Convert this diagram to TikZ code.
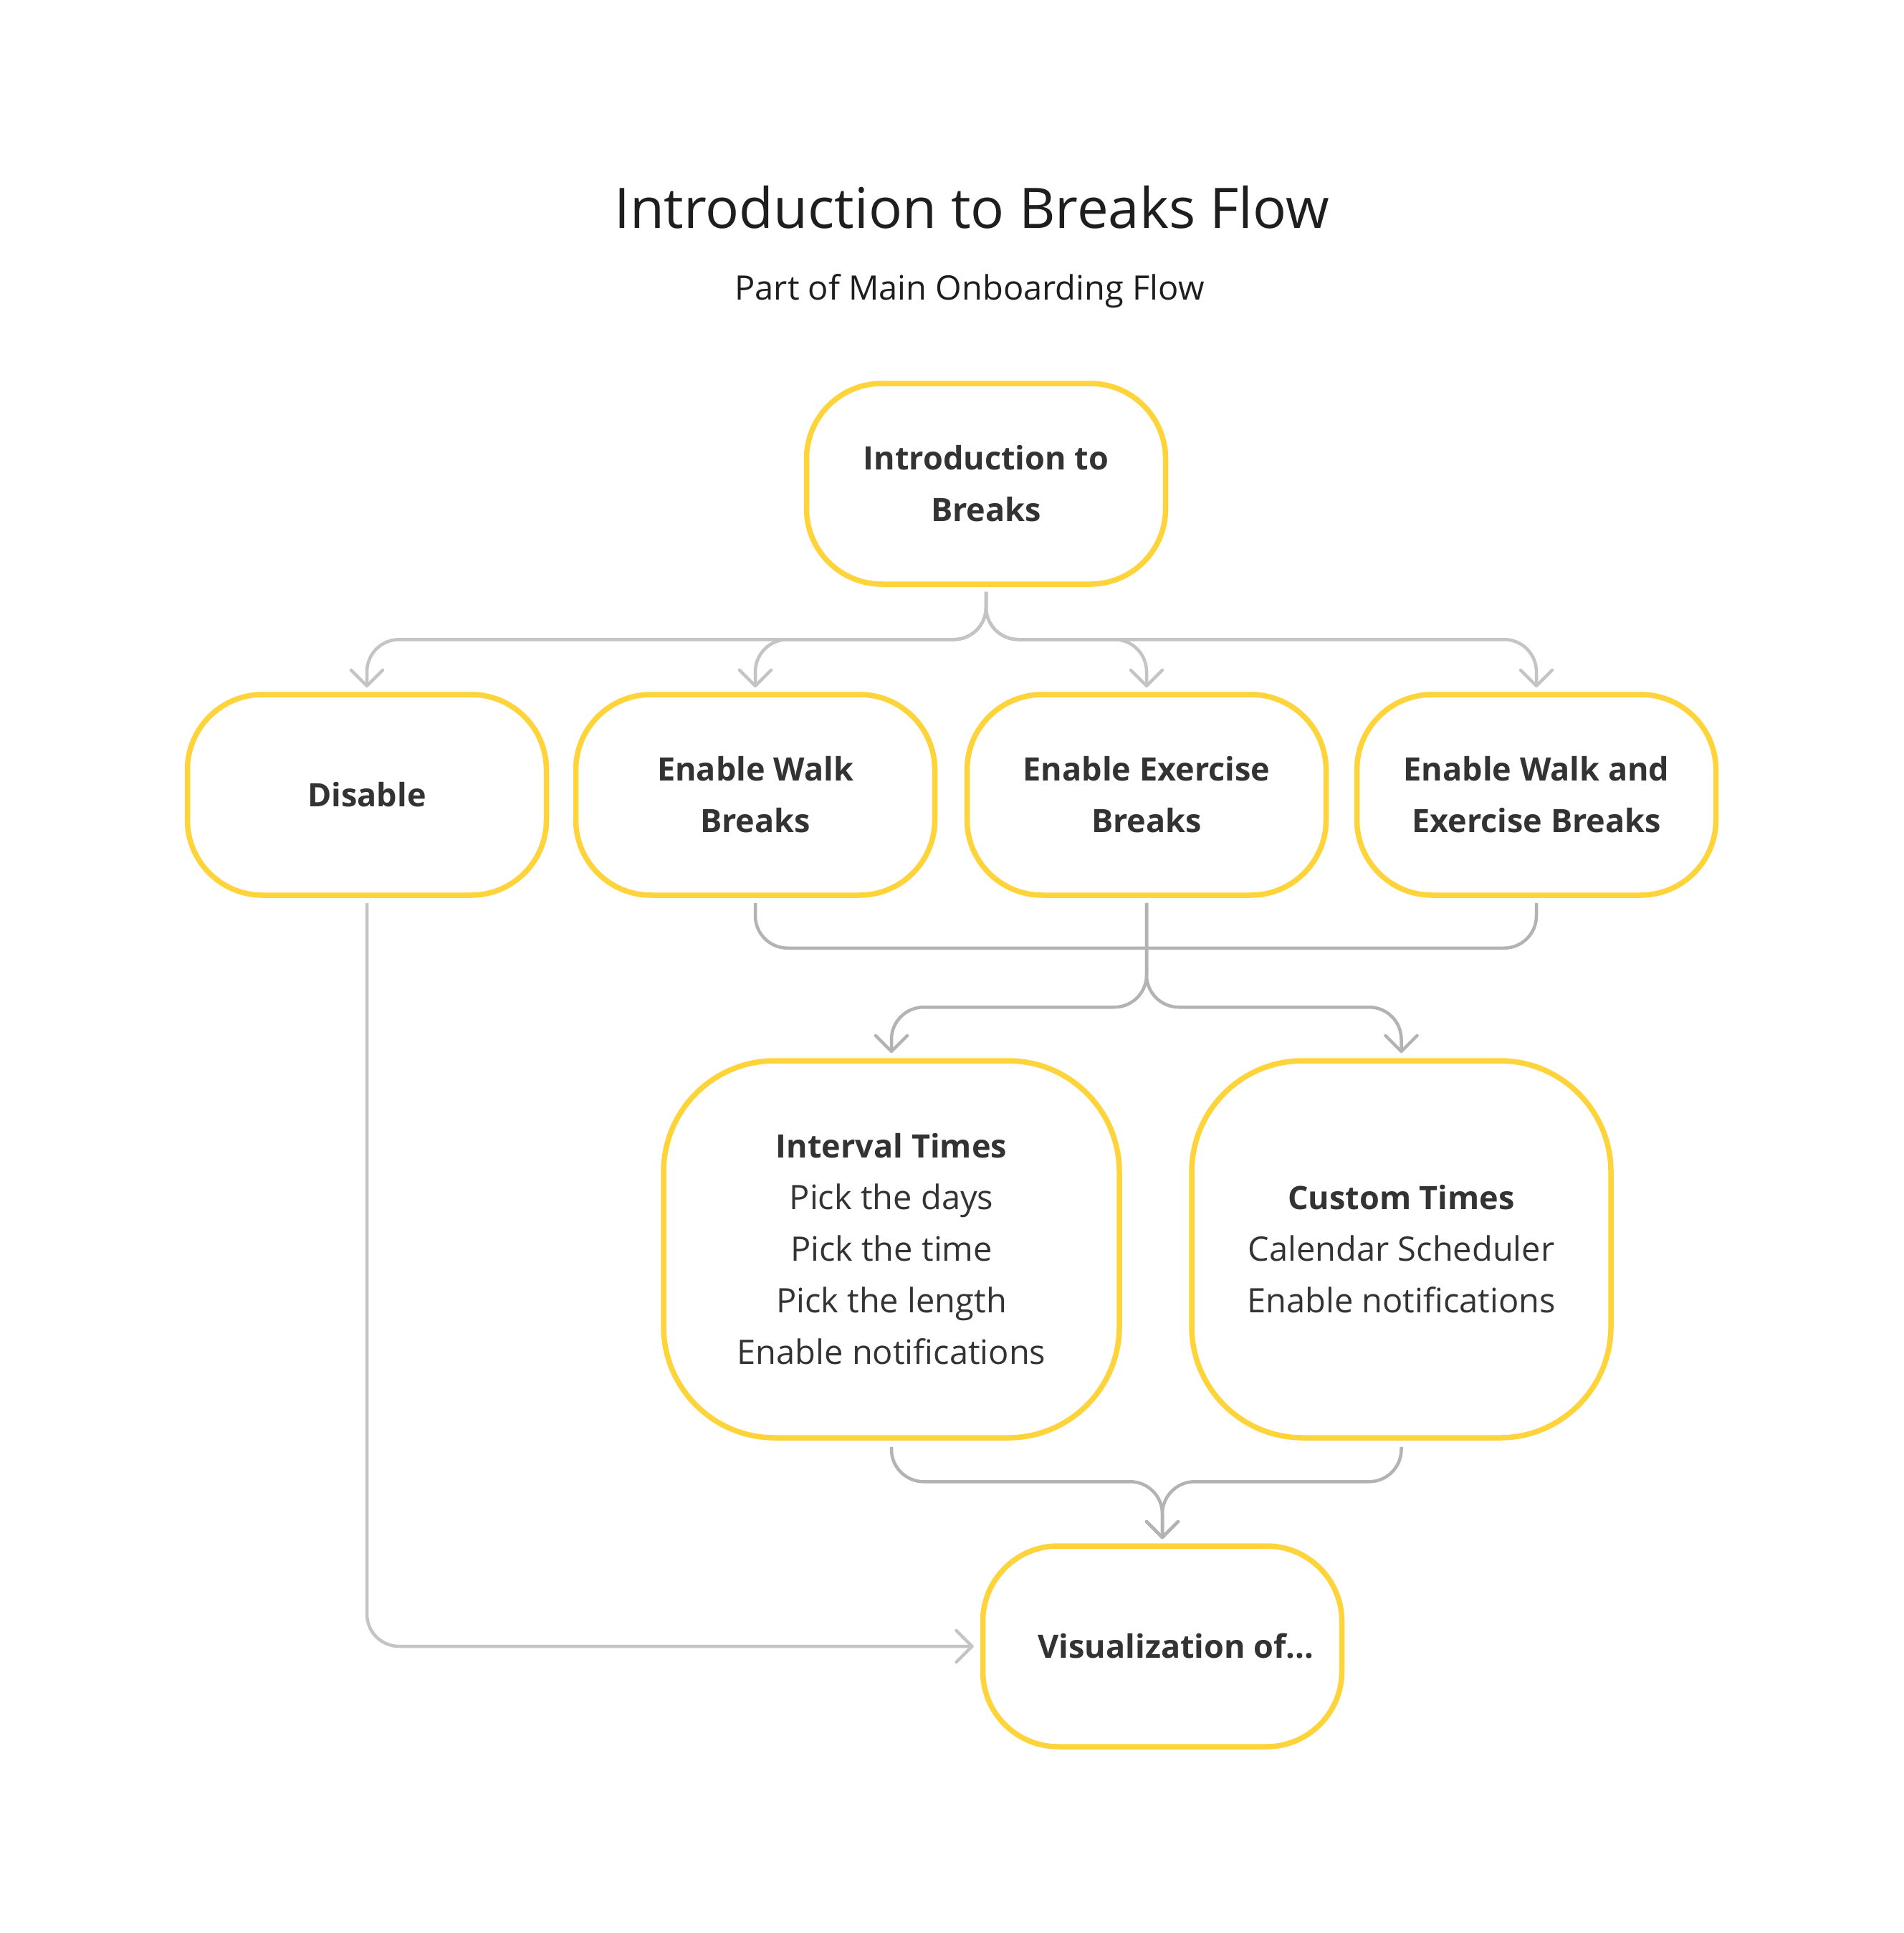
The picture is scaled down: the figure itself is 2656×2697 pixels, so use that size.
\documentclass[tikz,border=0pt]{standalone}
\usepackage{fontspec}
\setmainfont{Open Sans}
\usetikzlibrary{arrows.meta,calc}
\definecolor{boxyellow}{HTML}{FFD43B}
\definecolor{lineA}{HTML}{C4C4C4}
\definecolor{lineB}{HTML}{B3B3B3}
\definecolor{boxtext}{HTML}{333333}
\definecolor{titletext}{HTML}{1E1E1E}
\begin{document}
\begin{tikzpicture}[x=1pt,y=-1pt,
  box/.style={draw=boxyellow, line width=7.5pt, rounded corners=105pt, fill=white,
    minimum width=501pt, minimum height=280pt, align=center, text=boxtext,
    font=\fontsize{45}{72}\selectfont\bfseries, inner sep=0pt},
  tallbox/.style={box, rounded corners=155pt, minimum height=526pt,
    font=\fontsize{47}{72}\selectfont},
  headline/.style={font=\fontsize{45}{72}\selectfont\bfseries},
  connA/.style={draw=lineA, line width=4.5pt, rounded corners=45pt},
  connB/.style={draw=lineB, line width=4.5pt, rounded corners=45pt},
  tipped/.style={-{Straight Barb[length=22pt,width=44pt,round]}}
]
\useasboundingbox[fill=white] (0,0) rectangle (2656,2697);

\node[anchor=base, text=titletext, font=\fontsize{78}{90}\selectfont] (title) at (1356,318) {Introduction to Breaks Flow};
\node[anchor=base, text=titletext, font=\fontsize{47}{56}\selectfont] (subtitle) at (1353,418) {Part of Main Onboarding Flow};

\node[box] (intro) at (1376,675) {Introduction to\\Breaks};
\node[box] (disable) at (512,1109) {Disable};
\node[box] (walk) at (1054,1109) {Enable Walk\\Breaks};
\node[box] (exercise) at (1600,1109) {Enable Exercise\\Breaks};
\node[box] (both) at (2144,1109) {Enable Walk and\\Exercise Breaks};
\node[tallbox, minimum width=636pt] (interval) at (1244,1743)
  {{\fontsize{45}{72}\selectfont\bfseries Interval Times}\\Pick the days\\Pick the time\\Pick the length\\Enable notifications};
\node[tallbox, minimum width=585pt] (custom) at (1955.5,1743)
  {{\fontsize{45}{72}\selectfont\bfseries Custom Times}\\Calendar Scheduler\\Enable notifications};
\node[box] (vis) at (1622,2297) {\hspace*{38pt}Visualization of...};

% split from intro
\foreach \t in {disable,walk,exercise,both}{
  \draw[connA,tipped] ($(intro.south)+(0,7)$) |- ($(\t.north)+(0,-73)$) -- ($(\t.north)+(0,-6)$);
}
% merge of the three enable options
\draw[connB] ($(walk.south)+(0,7)$) |- ($(exercise.south)+(0,70)$);
\draw[connB] ($(both.south)+(0,7)$) |- ($(exercise.south)+(0,70)$);
\draw[connB,tipped] ($(exercise.south)+(0,7)$) |- ($(interval.north)+(0,-71)$) -- ($(interval.north)+(0,-7)$);
\draw[connB,tipped] ($(exercise.south)+(0,7)$) |- ($(custom.north)+(0,-71)$) -- ($(custom.north)+(0,-7)$);
% merge into visualization
\draw[connB,tipped] ($(interval.south)+(0,9)$) |- ($(vis.north)+(0,-86)$) -- ($(vis.north)+(0,-6)$);
\draw[connB,tipped] ($(custom.south)+(0,9)$) |- ($(vis.north)+(0,-86)$) -- ($(vis.north)+(0,-6)$);
% disable to visualization
\draw[connA,tipped] ($(disable.south)+(0,7)$) |- ($(vis.west)+(-9,0)$);
\end{tikzpicture}
\end{document}
